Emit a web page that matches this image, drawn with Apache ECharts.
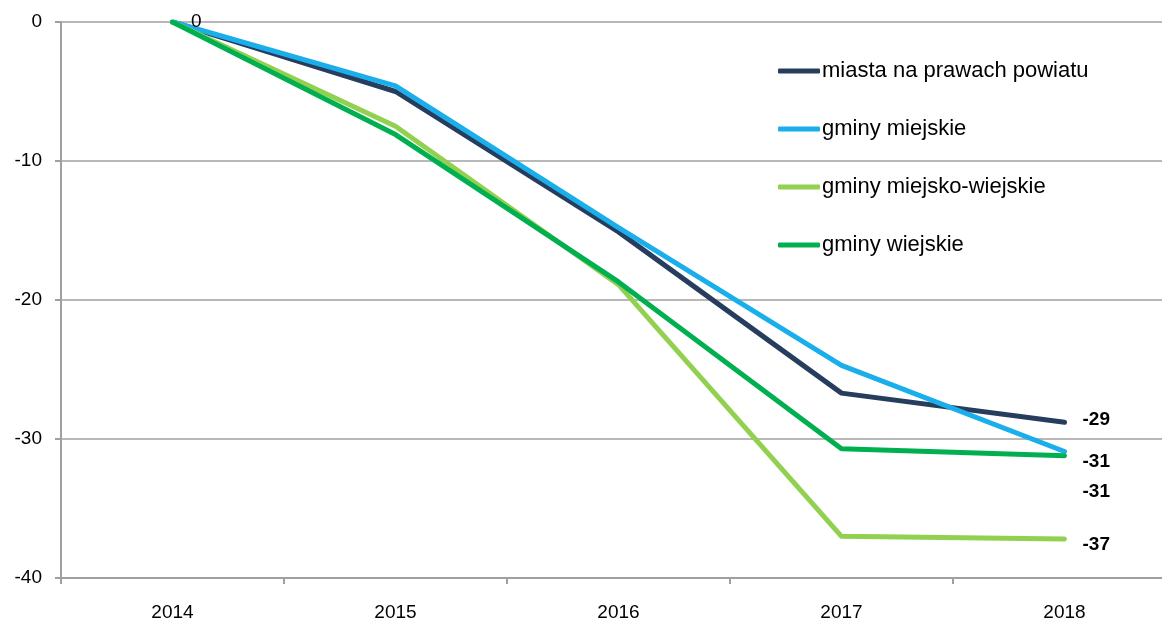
<!DOCTYPE html>
<html>
<head>
<meta charset="utf-8">
<script src="https://cdn.jsdelivr.net/npm/echarts@6/dist/echarts.min.js"></script>
<style>
html,body{margin:0;padding:0;background:#fff;overflow:hidden;width:1162px;height:622px;}
#chart{width:1176px;height:622px;}
</style>
</head>
<body>
<div id="chart"></div>
<script>
const categories = ['2014', '2015', '2016', '2017', '2018'];
const seriesNames = ['miasta na prawach powiatu', 'gminy miejskie', 'gminy miejsko-wiejskie', 'gminy wiejskie'];
const miasta = [0, -5.0, -15.1, -26.7, -28.8];
const gminyMiejskie = [0, -4.6, -14.8, -24.7, -30.9];
const gminyMiejskoWiejskie = [0, -7.5, -18.9, -37.0, -37.2];
const gminyWiejskie = [0, -8.1, -18.7, -30.7, -31.2];
const yTicks = [0, -10, -20, -30, -40];

const colors = ['#263D5E', '#1AAFEB', '#92D050', '#00B050'];
const values = [miasta, gminyMiejskie, gminyMiejskoWiejskie, gminyWiejskie];
const endOffsets = [[0, -3], [0, 10], [0, 6], [0, 36]];

const chart = echarts.init(document.getElementById('chart'));
const font = 'Liberation Sans, Arial, sans-serif';

const series = values.map((vals, i) => {
  const s = {
    name: seriesNames[i],
    type: 'line',
    data: vals,
    symbol: 'none',
    lineStyle: { width: 5, color: colors[i], cap: 'round', join: 'round' },
    itemStyle: { color: colors[i] },
    z: 2 + i,
    endLabel: {
      show: true,
      distance: 18,
      offset: endOffsets[i],
      formatter: p => String(Math.round(p.value)),
      color: '#000',
      fontWeight: 'bold',
      fontSize: 19,
      fontFamily: font
    }
  };
  if (i === 0) {
    s.markPoint = {
      symbol: 'circle',
      symbolSize: 1,
      itemStyle: { color: 'rgba(0,0,0,0)' },
      label: {
        show: true,
        position: 'right',
        distance: 18,
        formatter: p => String(Math.round(p.value)),
        color: '#000',
        fontSize: 19,
        fontFamily: font
      },
      data: [{ coord: [categories[0], vals[0]], value: vals[0] }]
    };
  }
  return s;
});

chart.setOption({
  animation: false,
  backgroundColor: '#fff',
  color: colors,
  grid: { left: 61, right: 0, top: 22, bottom: 44, containLabel: false },
  legend: {
    orient: 'vertical',
    left: 773,
    top: 55,
    icon: 'roundRect',
    itemWidth: 42,
    itemHeight: 5,
    itemGap: 36,
    data: seriesNames,
    itemStyle: { opacity: 1 },
    textStyle: { fontSize: 22, fontFamily: font, color: '#000', lineHeight: 22, padding: [0, 0, 0, -3] }
  },
  xAxis: {
    type: 'category',
    data: categories,
    boundaryGap: true,
    axisLine: { onZero: false, lineStyle: { color: '#A0A0A0', width: 2 } },
    axisTick: { show: true, length: 6, lineStyle: { color: '#A0A0A0', width: 2 } },
    axisLabel: { fontSize: 19, fontFamily: font, color: '#000', margin: 25 },
    splitLine: { show: false }
  },
  yAxis: {
    type: 'value',
    min: -40,
    max: 0,
    interval: 10,
    axisLine: { show: true, lineStyle: { color: '#A0A0A0', width: 2 } },
    axisTick: { show: true, length: 6, lineStyle: { color: '#A0A0A0', width: 2 } },
    axisLabel: { fontSize: 19, fontFamily: font, color: '#000', margin: 19,
      formatter: v => yTicks.includes(v) ? String(v) : '' },
    splitLine: { show: true, lineStyle: { color: '#A0A0A0', width: 1.5 } }
  },
  series: series
});
</script>
</body>
</html>
